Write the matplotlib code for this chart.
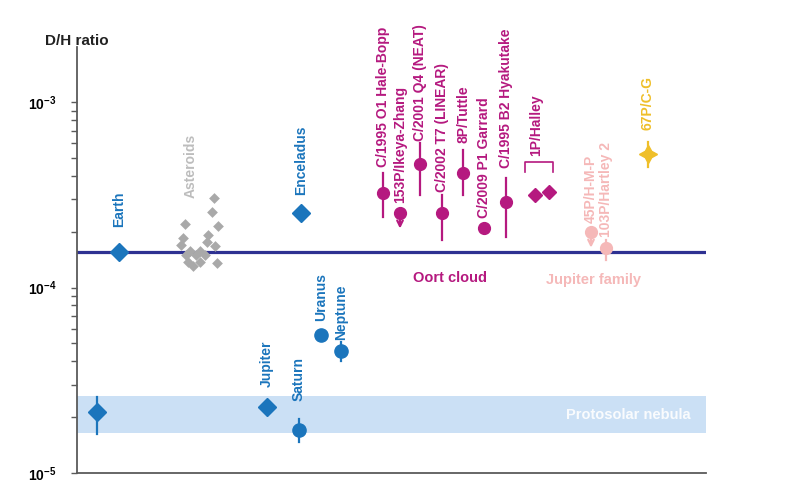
import matplotlib
matplotlib.use('Agg')
import matplotlib.pyplot as plt
from matplotlib.ticker import FixedLocator, FuncFormatter, LogLocator, NullFormatter
import numpy as np

plt.rcParams['font.family'] = ['Liberation Sans', 'DejaVu Sans']
plt.rcParams['mathtext.fontset'] = 'custom'
plt.rcParams['mathtext.bf'] = 'Liberation Sans:bold'
plt.rcParams['mathtext.rm'] = 'Liberation Sans'

# ---------------- data ----------------
earth_ref = 1.56e-4                    # terrestrial ocean water (horizontal line)
protosolar_band = (1.64e-5, 2.59e-5)   # protosolar nebula range

# blue objects (planets / moons / nebula)
blue_names = ['', 'Earth', 'Jupiter', 'Saturn', 'Enceladus', 'Uranus', 'Neptune']
blue_x = [20, 42, 190, 222, 224, 244, 264]
blue_val = [2.13e-5, 1.56e-4, 2.26e-5, 1.70e-5, 2.53e-4, 5.52e-5, 4.53e-5]
blue_lo = [1.62e-5, 1.56e-4, 2.26e-5, 1.47e-5, 2.53e-4, 5.52e-5, 4.00e-5]
blue_hi = [2.56e-5, 1.56e-4, 2.26e-5, 1.95e-5, 2.53e-4, 5.52e-5, 5.06e-5]
blue_marker = ['D', 'D', 'D', 'o', 'D', 'o', 'o']
blue_label_off = [0, 25, 20, 29, 18, 14, 11]

# asteroids (carbonaceous chondrites)
ast_x = [137, 135, 108, 141, 131, 106, 104, 130, 138, 113, 123, 109, 119, 128, 111, 123, 140, 116]
ast_val = [3.05e-4, 2.56e-4, 2.21e-4, 2.15e-4, 1.93e-4, 1.86e-4, 1.70e-4, 1.75e-4, 1.68e-4,
           1.58e-4, 1.58e-4, 1.49e-4, 1.49e-4, 1.50e-4, 1.38e-4, 1.38e-4, 1.36e-4, 1.31e-4]

# Oort cloud comets
oort_names = ['C/1995 O1 Hale-Bopp', '153P/Ikeya-Zhang', 'C/2001 Q4 (NEAT)', 'C/2002 T7 (LINEAR)',
              '8P/Tuttle', 'C/2009 P1 Garrard', 'C/1995 B2 Hyakutake']
oort_x = [306, 323, 343, 365, 386, 407, 429]
oort_val = [3.24e-4, 2.53e-4, 4.64e-4, 2.53e-4, 4.15e-4, 2.10e-4, 2.90e-4]
oort_lo = [2.41e-4, 2.08e-4, 3.16e-4, 1.81e-4, 3.16e-4, 2.10e-4, 1.88e-4]
oort_hi = [4.15e-4, 2.53e-4, 6.02e-4, 3.16e-4, 5.52e-4, 2.10e-4, 3.90e-4]
oort_upper_limit = [False, True, False, False, False, False, False]
oort_label_off = [26, 10, 23, 21, 30, 10, 34]

halley_x = [458, 472]
halley_val = [3.16e-4, 3.28e-4]
halley_name = '1P/Halley'

# Jupiter family comets
jf_names = ['45P/H-M-P', '103P/Hartley 2']
jf_x = [514, 529]
jf_val = [2.00e-4, 1.64e-4]
jf_lo = [1.64e-4, 1.41e-4]
jf_hi = [2.00e-4, 1.81e-4]
jf_upper_limit = [True, False]
jf_label_off = [9, 11]

cg_name = '67P/C-G'
cg_x = 571
cg_val = 5.25e-4
cg_lo = 4.47e-4
cg_hi = 6.10e-4

# ---------------- style ----------------
BLUE = '#1b75bc'
NAVY = '#2e3192'
BAND = '#cbe0f5'
GRAY = '#a9a9a9'
MAG = '#b5197f'
PINK = '#f5b8b8'
YEL = '#efbf2a'
AX = '#5a5a5a'

fig = plt.figure(figsize=(8.08, 4.87), dpi=100)
ax = fig.add_axes([77 / 808, 14 / 487, 629 / 808, 426 / 487])
ax.set_yscale('log')
ax.set_xlim(0, 629)
ax.set_ylim(1e-5, 1.98e-3)

ax.axhspan(*protosolar_band, color=BAND, lw=0, zorder=0)
ax.axhline(earth_ref, color=NAVY, lw=2.3, zorder=1)

lbl_kw = dict(rotation=90, ha='center', va='bottom', fontsize=10, fontweight='bold',
              textcoords='offset pixels')

# blue objects
for name, x, v, lo, hi, m, off in zip(blue_names, blue_x, blue_val, blue_lo, blue_hi,
                                       blue_marker, blue_label_off):
    if hi > lo:
        ax.plot([x, x], [lo, hi], color=BLUE, lw=1.6, zorder=3)
    ms = 9.0 if m == 'D' else 9.5
    ax.plot(x, v, marker=m, ms=ms, color=BLUE, mec=BLUE, ls='none', zorder=4)
    if name:
        ax.annotate(name, (x, v), xytext=(0, off), color=BLUE, **lbl_kw)

# asteroids
ax.scatter(ast_x, ast_val, marker='D', s=30, color=GRAY, lw=0, zorder=3)
ax.annotate('Asteroids', (np.mean(ast_x), max(ast_val)), xytext=(-9, 0),
            color='#bdbdbd', **lbl_kw)

# Oort cloud comets
for name, x, v, lo, hi, ul, off in zip(oort_names, oort_x, oort_val, oort_lo, oort_hi,
                                        oort_upper_limit, oort_label_off):
    if ul:
        ax.annotate('', xy=(x, lo), xytext=(x, v),
                    arrowprops=dict(arrowstyle='->', color=MAG, lw=1.6,
                                    shrinkA=0, shrinkB=0, mutation_scale=10), zorder=3)
    elif hi > lo:
        ax.plot([x, x], [lo, hi], color=MAG, lw=1.6, zorder=3)
    ax.plot(x, v, marker='o', ms=8.5, color=MAG, ls='none', zorder=4)
    ax.annotate(name, (x, v), xytext=(0, off), color=MAG, **lbl_kw)

# Halley
ax.plot(halley_x, halley_val, marker='D', ms=7.5, color=MAG, ls='none', zorder=4)
hx0, hx1 = min(halley_x) - 10, max(halley_x) + 4
htop = np.mean(halley_val) * 10 ** (31 / 186)
hbot = np.mean(halley_val) * 10 ** (21 / 186)
ax.plot([hx0, hx0, hx1, hx1], [hbot, htop, htop, hbot], color=MAG, lw=1.2, zorder=3)
ax.annotate(halley_name, (np.mean(halley_x) - 6, np.mean(halley_val)), xytext=(0, 37),
            color=MAG, **lbl_kw)

# Jupiter family comets
for name, x, v, lo, hi, ul, off in zip(jf_names, jf_x, jf_val, jf_lo, jf_hi,
                                        jf_upper_limit, jf_label_off):
    if ul:
        ax.annotate('', xy=(x, lo), xytext=(x, v),
                    arrowprops=dict(arrowstyle='->', color=PINK, lw=1.6,
                                    shrinkA=0, shrinkB=0, mutation_scale=10), zorder=3)
    elif hi > lo:
        ax.plot([x, x], [lo, hi], color=PINK, lw=1.6, zorder=3)
    ax.plot(x, v, marker='o', ms=8.5, color=PINK, ls='none', zorder=4)
    ax.annotate(name, (x, v), xytext=(0, off), color=PINK, **lbl_kw)

# 67P
ax.plot([cg_x, cg_x], [cg_lo, cg_hi], color=YEL, lw=1.6, zorder=3)
ax.plot(cg_x, cg_val, marker=(4, 1, 0), ms=13, color=YEL, ls='none', zorder=4)
ax.annotate(cg_name, (cg_x, cg_val), xytext=(0, 24), color=YEL, **lbl_kw)

# group labels
ax.text(373, 10 ** (-4 + 10 / 186), 'Oort cloud', color=MAG, fontsize=10.5,
        fontweight='bold', ha='center', va='center')
ax.text(517, 10 ** (-4 + 8 / 186), 'Jupiter family', color=PINK, fontsize=10.5,
        fontweight='bold', ha='center', va='center')
ax.text(551, np.sqrt(protosolar_band[0] * protosolar_band[1]), 'Protosolar nebula',
        color='white', fontsize=10.5, fontweight='bold', ha='center', va='center', alpha=0.9)

# axes styling
for s in ['top', 'right']:
    ax.spines[s].set_visible(False)
for s in ['left', 'bottom']:
    ax.spines[s].set_color(AX)
    ax.spines[s].set_linewidth(1.3)
ax.set_xticks([])
ax.yaxis.set_major_locator(FixedLocator([1e-5, 1e-4, 1e-3]))
ax.yaxis.set_minor_locator(LogLocator(base=10, subs=np.arange(2, 10), numticks=20))
ax.yaxis.set_minor_formatter(NullFormatter())
ax.yaxis.set_major_formatter(FuncFormatter(
    lambda v, p: r'$\mathbf{10^{%d}}$' % round(np.log10(v))))
ax.tick_params(axis='y', which='both', direction='out', length=4.5, width=1.0,
               color=AX, pad=10, labelsize=10)

fig.text(77 / 808, 1 - 41 / 487, 'D/H ratio', fontsize=11, fontweight='bold',
         ha='center', va='center', color='#222222')

fig.savefig('out.png', dpi=100)
